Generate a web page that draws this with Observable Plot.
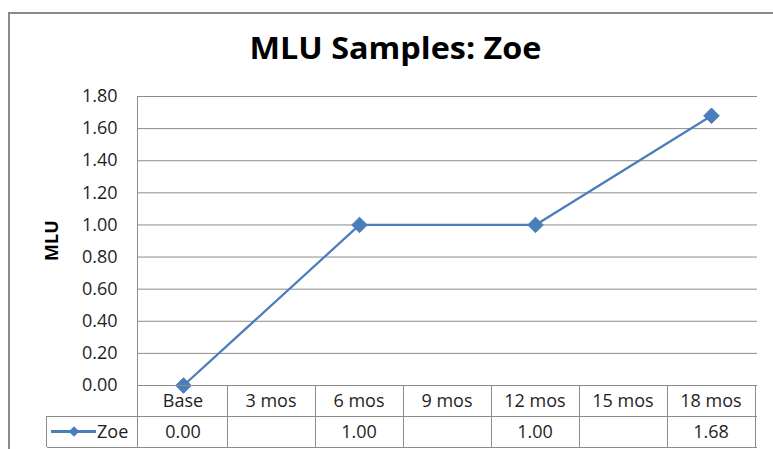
<!DOCTYPE html>
<html><head><meta charset="utf-8">
<script src="https://cdn.jsdelivr.net/npm/d3@7"></script>
<script src="https://cdn.jsdelivr.net/npm/@observablehq/plot@0.6"></script>
<style>
html,body{margin:0;padding:0;background:#fff;}
#wrap{position:relative;width:773px;height:449px;overflow:hidden;}
</style></head><body><div id="wrap"></div>
<script>
const title = "MLU Samples: Zoe";
const yLabel = "MLU";
const seriesName = "Zoe";
const categories = ["Base", "3 mos", "6 mos", "9 mos", "12 mos", "15 mos", "18 mos"];
const values = [0.00, null, 1.00, null, 1.00, null, 1.68];
const yTicks = [0, 0.2, 0.4, 0.6, 0.8, 1.0, 1.2, 1.4, 1.6, 1.8];

const data = categories.map((c, i) => ({cat: c, v: values[i]}));
const present = data.filter(d => d.v != null);
const blue = "#4a7ebb", grid = "#8c8c8c", ink = "#1e1e1e";
const font = "'Open Sans', sans-serif";
const fmt = d => d.toFixed(2);

const chart = Plot.plot({
  width: 773, height: 449,
  marginLeft: 137, marginRight: 16, marginTop: 96, marginBottom: 64,
  style: {fontFamily: font, fontSize: "18px", color: ink, background: "transparent", overflow: "visible"},
  x: {type: "point", domain: categories, padding: 0.5, axis: null},
  y: {domain: [0, 1.8], label: null, axis: null},
  marks: [
    Plot.gridY(yTicks, {stroke: grid, strokeOpacity: 1, strokeWidth: 1}),
    Plot.axisY(yTicks, {tickSize: 0, tickPadding: 20, tickFormat: fmt, fontSize: 18, fill: ink, label: null}),
    Plot.line(present, {x: "cat", y: "v", stroke: blue, strokeWidth: 2.25}),
    Plot.dot(present, {x: "cat", y: "v", symbol: "diamond2", r: 7, fill: blue, stroke: blue, strokeWidth: 1})
  ]
});
document.getElementById("wrap").appendChild(chart);

// Table and decorations through the plot's own scales
const sx = chart.scale("x"), sy = chart.scale("y");
const svg = d3.select(chart);
const xr = sx.range;
const step = (xr[1] - xr[0]) / categories.length;
const left = xr[0], right = xr[1];
const y0 = sy.apply(0), yTop = sy.apply(1.8);
const rowH = 31;
const r1 = y0 + rowH, r2 = y0 + 2 * rowH;
const legLeft = 46.5;
const g = svg.append("g").attr("stroke", grid).attr("stroke-width", 1).attr("fill", "none").attr("shape-rendering", "crispEdges");
g.append("line").attr("x1", left).attr("x2", left).attr("y1", yTop).attr("y2", r2);
g.append("line").attr("x1", left).attr("x2", right).attr("y1", y0).attr("y2", y0);
g.append("line").attr("x1", legLeft).attr("x2", right).attr("y1", r1).attr("y2", r1);
g.append("line").attr("x1", legLeft).attr("x2", right).attr("y1", r2).attr("y2", r2);
g.append("line").attr("x1", legLeft).attr("x2", legLeft).attr("y1", r1).attr("y2", r2);
categories.forEach(c => {
  const xb = sx.apply(c) + step / 2;
  g.append("line").attr("x1", xb).attr("x2", xb).attr("y1", y0).attr("y2", r2);
});
const tg = svg.append("g").attr("font-family", font).attr("font-size", 18).attr("fill", ink).attr("text-anchor", "middle");
categories.forEach(c => {
  tg.append("text").attr("x", sx.apply(c)).attr("y", y0 + 22).text(c);
});
present.forEach(d => {
  tg.append("text").attr("x", sx.apply(d.cat)).attr("y", r1 + 22).text(fmt(d.v));
});
// legend key
const ly = r1 + rowH / 2;
svg.append("line").attr("x1", 51).attr("x2", 96).attr("y1", ly).attr("y2", ly).attr("stroke", blue).attr("stroke-width", 3);
svg.append("path").attr("d", d3.symbol(d3.symbolDiamond2, 70)()).attr("transform", `translate(74,${ly})`).attr("fill", blue);
svg.append("text").attr("x", 97).attr("y", r1 + 22).attr("text-anchor", "start").attr("font-family", font).attr("font-size", 18).attr("fill", ink).text(seriesName);
// title
svg.append("text").attr("x", 395.5).attr("y", 59).attr("text-anchor", "middle")
  .attr("font-family", font).attr("font-weight", "bold").attr("font-size", 30).attr("fill", "#000")
  .attr("textLength", 292).attr("lengthAdjust", "spacingAndGlyphs").text(title);
// y label
svg.append("text").attr("transform", `translate(58,${(y0 + yTop) / 2}) rotate(-90)`).attr("text-anchor", "middle")
  .attr("font-family", font).attr("font-weight", "bold").attr("font-size", 18).attr("fill", "#000").text(yLabel);
// outer chart border
svg.append("path").attr("d", "M9,449V13H773").attr("fill", "none").attr("stroke", "#8a8a8a").attr("stroke-width", 2);
</script>
</body></html>
